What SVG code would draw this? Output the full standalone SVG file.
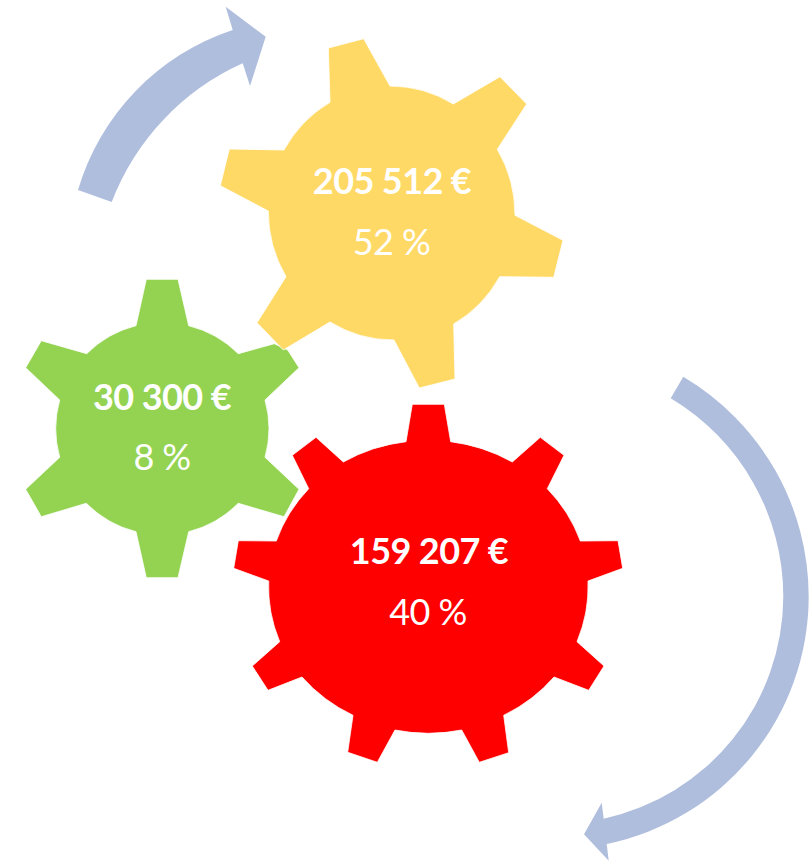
<svg xmlns="http://www.w3.org/2000/svg" width="810" height="861" viewBox="0 0 810 861">
<style>
.gear{stroke:#fff;stroke-width:.8;stroke-linejoin:miter}
.arrow{fill:#B0BEDE}
text{fill:#fff;text-anchor:middle;font-family:Lato,"Liberation Sans",sans-serif;font-size:36px;letter-spacing:-.6px}
.amount{font-weight:700}
</style>
<rect width="810" height="861" fill="#fff"/>
<g id="connectors">
<path class="arrow" d="M78 190A240 240 0 0 1 232.700 30L225.700 6.700L265.700 36.700L250 86L242.700 63.300A250 250 0 0 0 111.700 202Z"/>
<path class="arrow" d="M683.300 376.700A255.700 255.700 0 0 1 808.700 596.700A253 253 0 0 1 606.700 844L608.700 860.700L584 834.300L601.700 802.700L603.700 818.700A228 228 0 0 0 783.300 596.700A231 231 0 0 0 670.700 398.300Z"/>
</g>
<g id="gear-red">
<path class="gear" fill="#FF0000" d="M412.300 404.300H444.300L450.700 441.700A160 149.500 0 0 1 512.300 462L540.300 437.300L564 455.300L547.300 488.700A160 149.500 0 0 1 580.300 541L618 540.700L622.700 568.300L588 581A160 149.500 0 0 1 577 641.700L604 666L588.700 690.300L554 677A160 149.500 0 0 1 503.700 715.300L508.700 752.700L479.300 762.300L461.700 730A160 149.500 0 0 1 395 730L377.300 762.300L347.700 752.300L353 715.300A160 149.500 0 0 1 302 677L268 690.300L252.300 666L279.700 641.700A160 149.500 0 0 1 268.700 581L233.700 568.300L238.300 540.700L276.300 541A160 149.500 0 0 1 308.700 488.700L292.300 455.300L316 437.300L343.300 462A160 149.500 0 0 1 406 441.700Z"/>
<text class="amount" x="429" y="564">159 207 €</text>
<text x="428" y="625">40 %</text>
</g>
<g id="gear-green">
<path class="gear" fill="#93D351" d="M146.300 279.300H178L188.700 325.700A106.500 106.500 0 0 1 238.300 353.700L274.300 343.700L287.700 350L299 367.700L265 400A106.500 106.500 0 0 1 265 457.300L299 489.300L284 516.700L238.300 503.300A106.500 106.500 0 0 1 188.700 531.700L178 577.700H146.300L136 531.700A106.500 106.500 0 0 1 86.300 503.300L41.300 516.700L25.700 489.300L59.700 457.300A106.500 106.500 0 0 1 59.700 400L25.700 367.700L41.300 340.700L86.700 353.700A106.500 106.500 0 0 1 136 325.700Z"/>
<text class="amount" x="162" y="409.500">30 300 €</text>
<text x="162" y="470">8 %</text>
</g>
<g id="gear-yellow">
<path class="gear" fill="#FFD966" d="M328.300 48L363.700 38.700L390 86A123.500 127 0 0 1 453.300 104L500 76.700L526.700 104L497.300 149.300A123.500 127 0 0 1 515 215.300L563 240.300L553.700 277.300L499.700 276.700A123.500 127 0 0 1 453.700 324L455 379L419.300 388L394 340A123.500 127 0 0 1 330 322L283.300 350L257 322.700L286 276.700A123.500 127 0 0 1 268.300 211L220.300 185.700L229.300 149L284 150A123.500 127 0 0 1 330 102.300Z"/>
<text class="amount" x="392" y="194">205 512 €</text>
<text x="391.500" y="255">52 %</text>
</g>
</svg>
